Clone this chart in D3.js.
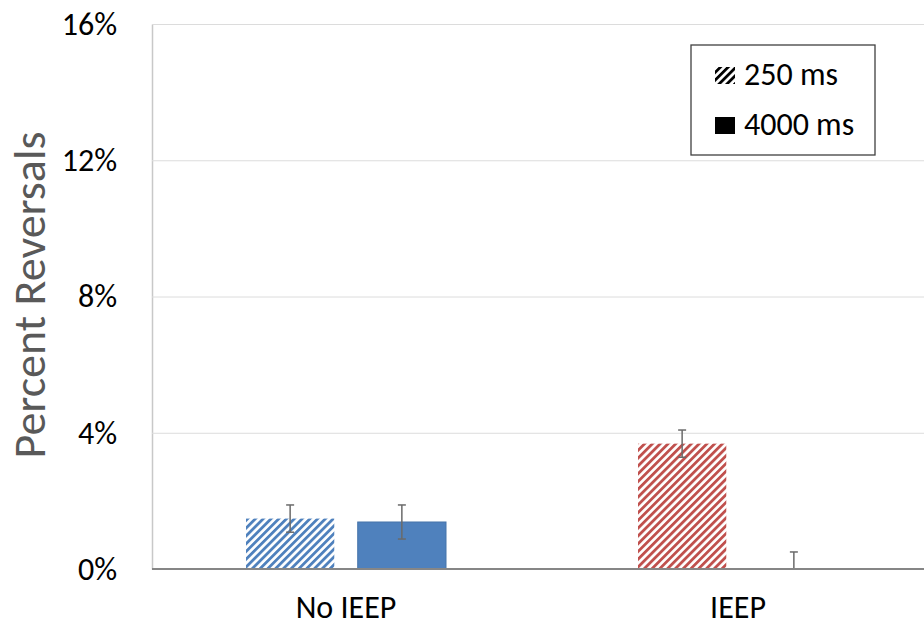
<!DOCTYPE html>
<html><head><meta charset="utf-8">
<script src="https://cdn.jsdelivr.net/npm/d3@7"></script>
<style>body{margin:0;background:#fff}svg{display:block}</style></head>
<body>
<svg id="c" width="924" height="626"></svg>
<script>
const categories = ["No IEEP", "IEEP"];
const series = ["250 ms", "4000 ms"];
const values250 = [1.48, 3.68];
const values4000 = [1.38, 0];
const errors250 = [0.4, 0.4];
const errors4000 = [0.5, 0.5];
const yTicks = [0, 4, 8, 12, 16];
const categoryColors = ["#4F81BD", "#C0504D"];

const FONT = "Carlito, Lato, sans-serif";
const svg = d3.select("#c");
const plotLeft = 152, plotTop = 24, plotBottom = 569, plotRight = 924;

const y = d3.scaleLinear().domain([0, 16]).range([plotBottom, plotTop]);
const x0 = d3.scaleBand().domain(categories).range([150, 934]).padding(0);
const x1 = d3.scaleBand().domain(series).range([96, 296]).paddingInner(0.21).paddingOuter(0);

const defs = svg.append("defs");
function hatch(id, color) {
  const p = defs.append("pattern").attr("id", id).attr("patternUnits", "userSpaceOnUse")
    .attr("width", 5.5).attr("height", 5.5).attr("patternTransform", "rotate(45)");
  p.append("rect").attr("width", 5.5).attr("height", 5.5).attr("fill", "#fff");
  p.append("rect").attr("width", 2.8).attr("height", 5.5).attr("fill", color);
}
categoryColors.forEach((c, i) => hatch("h" + i, c));
hatch("hk", "#000");

// grid + y axis
const yAxis = d3.axisLeft(y).tickValues(yTicks).tickFormat(d => d + "%")
  .tickSizeInner(-(plotRight - plotLeft)).tickSizeOuter(0).tickPadding(35);
const gy = svg.append("g").attr("transform", `translate(${plotLeft},0)`).call(yAxis);
gy.select(".domain").attr("stroke", "#c8c8c8").attr("stroke-width", 1.5);
gy.selectAll(".tick line").attr("stroke", "#dcdcdc").attr("stroke-width", 1);
gy.selectAll(".tick text").attr("font-family", FONT).attr("font-size", 32).attr("fill", "#000");

// bars
const rows = categories.map((c, i) => ({
  cat: c, ci: i,
  items: [
    {s: series[0], v: values250[i], e: errors250[i], hatched: true},
    {s: series[1], v: values4000[i], e: errors4000[i], hatched: false}
  ]
}));
const g = svg.selectAll(".grp").data(rows).enter().append("g")
  .attr("transform", d => `translate(${x0(d.cat)},0)`);
g.selectAll("rect.bar").data(d => d.items.map(it => Object.assign({ci: d.ci}, it))).enter()
  .append("rect").attr("class", "bar")
  .attr("x", d => x1(d.s)).attr("width", x1.bandwidth())
  .attr("y", d => y(d.v)).attr("height", d => y(0) - y(d.v))
  .attr("fill", d => d.hatched ? `url(#h${d.ci})` : categoryColors[d.ci])
  .attr("stroke", d => d.hatched ? "none" : d3.color(categoryColors[d.ci]).darker(0.3))
  .attr("stroke-width", 1);

// error bars
const eb = g.selectAll("g.eb").data(d => d.items).enter().append("g")
  .attr("transform", d => `translate(${x1(d.s) + x1.bandwidth() / 2},0)`)
  .attr("stroke", "#6a6a6a").attr("stroke-width", 1.5);
eb.append("line").attr("y1", d => y(d.v + d.e)).attr("y2", d => y(Math.max(0, d.v - d.e)));
eb.append("line").attr("x1", -4).attr("x2", 4).attr("y1", d => y(d.v + d.e)).attr("y2", d => y(d.v + d.e));
eb.filter(d => d.v - d.e > 0).append("line").attr("x1", -4).attr("x2", 4)
  .attr("y1", d => y(d.v - d.e)).attr("y2", d => y(d.v - d.e));

// baseline / x axis
const xAxis = d3.axisBottom(x0).tickSize(0).tickPadding(26);
const gx = svg.append("g").attr("transform", `translate(0,${y(0)})`).call(xAxis);
gx.select(".domain").remove();
gx.selectAll(".tick text").attr("font-family", FONT).attr("font-size", 32).attr("fill", "#000");
svg.append("line").attr("x1", plotLeft).attr("x2", plotRight).attr("y1", y(0)).attr("y2", y(0))
  .attr("stroke", "#868686").attr("stroke-width", 2);

// y title
svg.append("text").attr("transform", `translate(45,295) rotate(-90)`)
  .attr("text-anchor", "middle").attr("font-family", FONT).attr("font-size", 46)
  .attr("fill", "#595959").text("Percent Reversals");

// legend
const lg = svg.append("g");
lg.append("rect").attr("x", 691).attr("y", 45).attr("width", 184).attr("height", 110)
  .attr("fill", "#fff").attr("stroke", "#404040").attr("stroke-width", 1.3);
const legendItems = [{s: series[0], fill: "url(#hk)", y: 67}, {s: series[1], fill: "#000", y: 117}];
legendItems.forEach(it => {
  lg.append("rect").attr("x", 715).attr("y", it.y).attr("width", 20).attr("height", 17).attr("fill", it.fill);
  lg.append("text").attr("x", 744).attr("y", it.y + 18).attr("font-family", FONT).attr("font-size", 32)
    .attr("fill", "#000").text(it.s);
});
</script>
</body></html>
